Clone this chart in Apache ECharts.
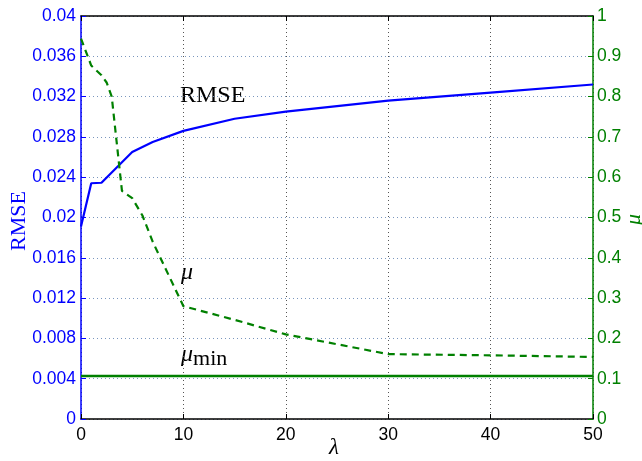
<!DOCTYPE html>
<html>
<head>
<meta charset="utf-8">
<script src="https://cdn.jsdelivr.net/npm/echarts@6/dist/echarts.min.js"></script>
<style>
  html, body { margin: 0; padding: 0; background: #fff; }
  #chart { width: 642px; height: 461px; }
</style>
</head>
<body>
<div id="chart"></div>
<script>
// lambda values and the curves
const lambdaRmse = [0, 1, 2, 5, 7, 10, 15, 20, 30, 40, 50]
const rmseValues = [0.0191, 0.0234, 0.02345, 0.0265, 0.0275, 0.0286, 0.0298, 0.0305, 0.0316, 0.0324, 0.0332]

const lambdaMu = [0, 1, 2, 2.5, 3, 4, 5, 6, 7, 10, 15, 20, 30, 40, 50]
const muValues = [0.944, 0.877, 0.853, 0.835, 0.80, 0.566, 0.548, 0.505, 0.44, 0.28, 0.246, 0.21, 0.161, 0.158, 0.154]

const lambdaMuMin = [0, 50]
const muMinValues = [0.107, 0.107]

const pairs = (xs, ys) => xs.map((x, i) => [x, ys[i]])

const BLUE = '#0000ff'
const GREEN = '#008000'
const tickFont = 'Liberation Sans, Arial, sans-serif'
const serif = 'Liberation Serif, DejaVu Serif, serif'

const chart = echarts.init(document.getElementById('chart'))
chart.setOption({
  animation: false,
  grid: { left: 81, right: 49, top: 16, bottom: 42 },
  xAxis: [{
    type: 'value',
    min: 0,
    max: 50,
    interval: 10,
    axisLine: { onZero: false, lineStyle: { color: '#000', width: 1.5 } },
    axisTick: { inside: true, length: 5, lineStyle: { color: '#000' } },
    axisLabel: { color: '#000', fontSize: 17.5, fontFamily: tickFont, margin: 7 },
    splitLine: { show: true, lineStyle: { color: '#555', type: [1, 3], width: 1 } }
  }, {
    type: 'value',
    position: 'top',
    min: 0,
    max: 50,
    interval: 10,
    axisLine: { show: true, onZero: false, lineStyle: { color: '#000', width: 1.5 } },
    axisTick: { inside: true, length: 5, lineStyle: { color: '#000' } },
    axisLabel: { show: false },
    splitLine: { show: false }
  }],
  yAxis: [{
    type: 'value',
    position: 'left',
    min: 0,
    max: 0.04,
    interval: 0.004,
    axisLine: { show: true, onZero: false, lineStyle: { color: BLUE, width: 1.5 } },
    axisTick: { show: true, inside: true, length: 5, lineStyle: { color: BLUE } },
    axisLabel: {
      color: BLUE, fontSize: 17.5, fontFamily: tickFont, margin: 5,
      formatter: v => String(parseFloat(v.toFixed(3)))
    },
    splitLine: { show: true, lineStyle: { color: '#7a96bd', type: [1, 3], width: 1 } }
  }, {
    type: 'value',
    position: 'right',
    min: 0,
    max: 1,
    interval: 0.1,
    axisLine: { show: true, onZero: false, lineStyle: { color: GREEN, width: 1.5 } },
    axisTick: { show: true, inside: true, length: 5, lineStyle: { color: GREEN } },
    axisLabel: {
      color: GREEN, fontSize: 17.5, fontFamily: tickFont, margin: 4,
      formatter: v => String(parseFloat(v.toFixed(1)))
    },
    splitLine: { show: false }
  }],
  series: [
    {
      name: 'RMSE',
      type: 'line',
      yAxisIndex: 0,
      data: pairs(lambdaRmse, rmseValues),
      symbol: 'none',
      lineStyle: { color: BLUE, width: 2.2 }
    },
    {
      name: 'mu',
      type: 'line',
      yAxisIndex: 1,
      data: pairs(lambdaMu, muValues),
      symbol: 'none',
      lineStyle: { color: GREEN, width: 2.2, type: [7, 5] }
    },
    {
      name: 'mu_min',
      type: 'line',
      yAxisIndex: 1,
      data: pairs(lambdaMuMin, muMinValues),
      symbol: 'none',
      lineStyle: { color: GREEN, width: 2.5 }
    }
  ],
  graphic: [
    { type: 'text', left: 180, top: 84, style: { text: 'RMSE', fill: '#000', font: '24px ' + serif } },
    { type: 'text', left: 181, top: 261, style: { text: 'μ', fill: '#000', font: 'italic 24px ' + serif } },
    {
      type: 'text', left: 181, top: 343,
      style: {
        text: '{m|μ}{s|min}',
        rich: {
          m: { fill: '#000', font: 'italic 24px ' + serif },
          s: { fill: '#000', font: '22px ' + serif, padding: [8, 0, 0, 0] }
        }
      }
    },
    { type: 'text', left: 329, top: 436, style: { text: 'λ', fill: '#000', font: 'italic 23px ' + serif } },
    {
      type: 'text', x: 8, y: 251, rotation: Math.PI / 2,
      style: { text: 'RMSE', fill: BLUE, font: '22px ' + serif }
    },
    {
      type: 'text', x: 623, y: 225, rotation: Math.PI / 2,
      style: { text: 'μ', fill: GREEN, font: 'italic 22px ' + serif }
    }
  ]
})
</script>
</body>
</html>
